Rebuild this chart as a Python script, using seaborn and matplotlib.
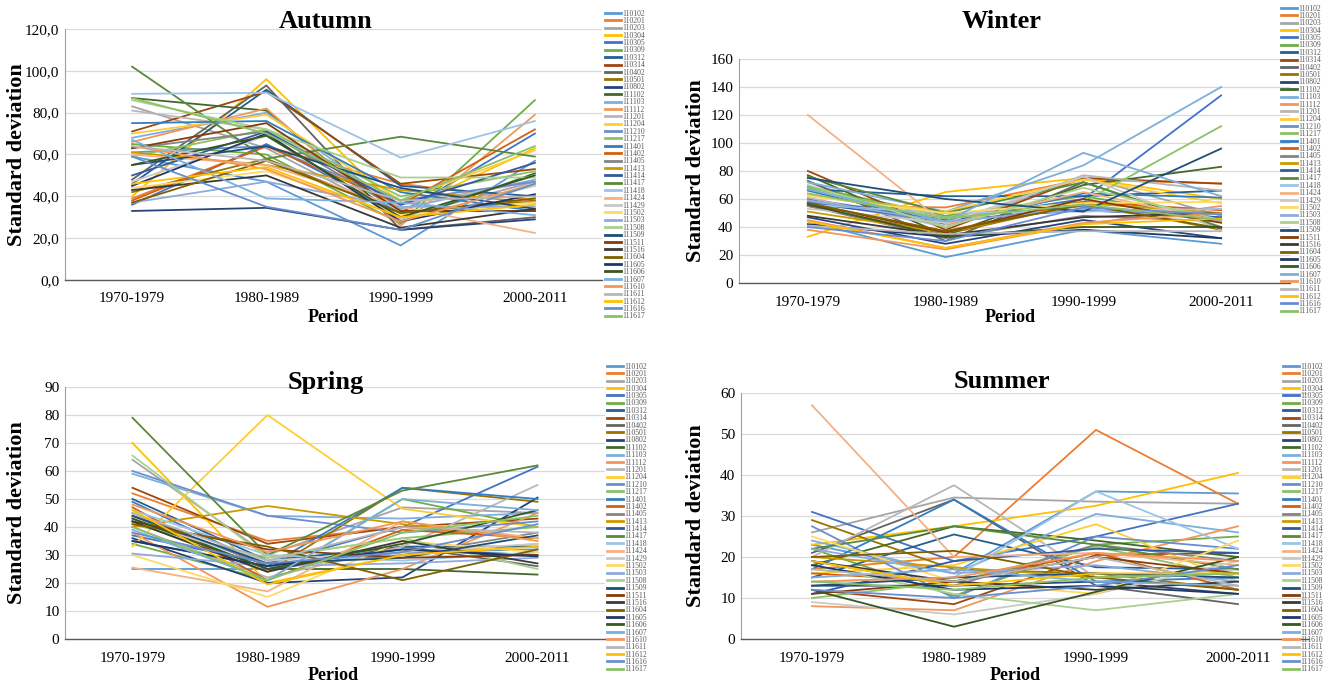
import numpy as np
import pandas as pd
import matplotlib
matplotlib.use("Agg")
import matplotlib.pyplot as plt
import seaborn as sns
from matplotlib.ticker import FuncFormatter

periods = ["1970-1979", "1980-1989", "1990-1999", "2000-2011"]

stations = ["110102", "110201", "110203", "110304", "110305", "110309", "110312",
            "110314", "110402", "110501", "110802", "111102", "111103", "111112",
            "111201", "111204", "111210", "111217", "111401", "111402", "111405",
            "111413", "111414", "111417", "111418", "111424", "111429", "111502",
            "111503", "111508", "111509", "111511", "111516", "111604", "111605",
            "111606", "111607", "111610", "111611", "111612", "111616", "111617"]

# Excel-like series colours
colors = ["#5B9BD5", "#ED7D31", "#A5A5A5", "#FFC000", "#4472C4", "#70AD47",
          "#255E91", "#9E480E", "#636363", "#997300", "#264478", "#43682B",
          "#7CAFDD", "#F1975A", "#B7B7B7", "#FFCD33", "#698ED0", "#8CC168",
          "#327DC2", "#D26012", "#848484", "#CC9A00", "#335AA1", "#5A8A39",
          "#9DC3E6", "#F4B183", "#C9C9C9", "#FFD966", "#8FAADC", "#A9D18E",
          "#1F4E79", "#843C0C", "#3A3A3A", "#7F6000", "#203864", "#385723",
          "#7CAFDD", "#F1975A", "#B7B7B7", "#FFC000", "#698ED0", "#8CC168"]

# standard deviation per station, values for the 4 periods
autumn = [
    [59, 47, 16.5, 57], [39, 64, 46, 38], [83, 63, 30, 47], [40, 96, 33, 63],
    [36, 65, 32, 70], [65, 60, 27, 86], [46, 91, 45, 40], [71, 90, 46, 53],
    [48, 93, 24, 30], [42, 58, 32, 38], [33, 34.5, 24, 29], [87, 81, 28, 51],
    [68, 80, 34, 48], [66, 82, 26, 79], [81, 72, 36, 47], [70, 79, 38, 62],
    [61, 64, 38, 47], [59, 72, 40, 52], [75, 76, 42, 33], [38, 64, 36, 72],
    [63, 71, 33, 33], [61, 55, 43, 37], [50, 71, 36, 56], [102, 58, 68.5, 59],
    [89, 89.5, 58.5, 76], [60, 55, 35, 22.5], [47, 69, 29, 45], [44, 52, 31, 37],
    [37, 47, 35, 35], [86, 72, 49, 49], [55, 64, 44, 34], [63, 75, 33, 33],
    [43, 50, 25, 34], [37, 57, 32, 39], [45, 70, 28, 41], [55, 69, 30, 50],
    [67, 39, 37, 31], [64, 53, 28, 46], [64, 57, 38, 40], [46, 54, 30, 36],
    [59, 35, 24, 46], [87, 70, 38, 64]]

winter = [
    [44, 18.5, 38, 28], [55, 54, 74, 71], [72, 40, 76, 48], [33, 65, 75, 60],
    [60, 45, 60, 134], [69, 48, 62, 46], [67, 62, 62, 66], [80, 38, 75, 71],
    [73, 30, 72, 39], [55, 35, 57, 38], [47, 28, 45, 32], [77, 34, 70, 83],
    [72, 51, 84, 140], [38, 24, 42, 55], [61, 40, 77, 66], [63, 51, 74, 57],
    [58, 43, 55, 45], [68, 47, 58, 112], [66, 42, 64, 61], [56, 37, 58, 52],
    [55, 32, 48, 44], [51, 36, 57, 50], [57, 45, 52, 47], [76, 50, 72, 40],
    [56, 50, 51, 53], [120, 42, 65, 44], [53, 43, 76, 38], [62, 50, 57, 58],
    [59, 44, 53, 45], [70, 40, 68, 45], [75, 60, 51, 96], [57, 36, 60, 43],
    [48, 34, 47, 50], [57, 37, 56, 39], [42, 33, 38, 32], [56, 33, 40, 40],
    [67, 44, 93, 62], [45, 25, 43, 50], [41, 35, 37, 37], [44, 25, 42, 46],
    [40, 30, 54, 49], [64, 46, 56, 45]]

spring = [
    [25, 25, 31, 32], [52, 35, 40, 36], [64, 30, 47, 45], [70, 20, 30, 34],
    [37, 27, 40, 61.5], [34, 21, 50, 40], [50, 28, 33, 33], [54, 34, 40, 43],
    [43, 25, 33, 26], [42, 24, 54, 49], [36, 20, 22, 50.5], [44, 25, 25, 23],
    [59, 44, 43, 45], [38, 11.5, 25, 45], [40, 22, 33, 55], [33, 80, 46.5, 40],
    [60, 44, 38, 42], [41, 29, 36, 40], [49, 26, 54, 50], [47, 21, 39, 36],
    [45, 26, 30, 38], [40, 47.5, 41, 36], [35, 26, 32, 30], [79, 30, 53, 62],
    [46, 30, 28, 31], [25.5, 17, 42, 36], [42, 28, 31, 34], [30, 15, 35, 31],
    [30.5, 26, 27, 29], [65.5, 29, 36, 25], [44, 27, 29, 37], [42, 32, 29, 30],
    [42, 24, 35, 27], [41, 33, 21, 32], [35, 26, 32, 29.5], [43, 25, 34, 46],
    [39, 21, 50, 46], [48, 31, 42, 35], [45, 28, 40, 38], [46, 19.5, 30, 33],
    [38, 27, 31, 41], [40, 21, 38, 44]]

summer = [
    [23, 16, 36, 35.5], [17, 20, 51, 33], [26, 34.5, 33.5, 33], [23, 27.5, 32.5, 40.5],
    [31, 19, 25, 33], [22, 10.5, 23, 25], [15, 25.5, 17.5, 17], [12, 8.5, 20.5, 21],
    [21, 34, 13, 8.5], [29, 17, 16, 12], [13, 13, 14, 11], [18, 27.5, 24, 20],
    [24, 16, 30.5, 26], [8, 7, 19, 27.5], [20, 37.5, 15, 17], [16, 18, 28, 14],
    [27.5, 10, 25, 22], [10, 14, 22.5, 15], [17, 34, 14, 15], [16, 14, 21, 12],
    [19, 13, 23, 19], [20, 17.5, 15, 16], [11, 19, 22, 21], [22, 27.5, 23, 17],
    [14, 15, 36, 22], [57, 20, 21, 18], [9, 6, 11, 19], [25, 14, 11, 24],
    [22, 16, 18, 14], [18, 11, 7, 11], [13, 15, 16, 15], [11, 14, 20, 16],
    [19, 14, 12, 14], [20, 21.5, 15, 12], [18, 12, 13, 11], [12, 3, 11.5, 20],
    [15, 17, 14, 13], [14, 15, 21, 19], [17, 14, 20, 13], [19, 13, 16, 16],
    [12, 10, 13, 18], [14, 12, 15, 16]]

plt.rcParams["font.family"] = ["Liberation Serif", "DejaVu Serif"]

W, H = 1337, 685
fig = plt.figure(figsize=(W / 100, H / 100), dpi=100)


def px(x0, y0, x1, y1):
    # pixel box (top-left origin) -> figure fraction rect
    return [x0 / W, 1 - y1 / H, (x1 - x0) / W, (y1 - y0) / H]


panels = [
    # name, data, box, ymax, step, comma fmt, title pos, ylabel x, xlabel pos, legend anchor
    ("Autumn", autumn, (65, 29, 602, 280), 120, 20, True, (326, 22), 17, (333, 318), (603, 8)),
    ("Winter", winter, (739, 59, 1290, 283), 160, 20, False, (1002, 22), 696, (1010, 318), (1279, 3)),
    ("Spring", spring, (65, 387, 605, 639), 90, 10, False, (326, 382), 17, (333, 676), (605, 361)),
    ("Summer", summer, (741, 393, 1309, 639), 60, 10, False, (1002, 382), 696, (1015, 676), (1281, 361)),
]

for name, vals, box, ymax, step, comma, tpos, ylx, xlpos, lpos in panels:
    df = pd.DataFrame(vals, columns=periods)
    df["station"] = stations
    long = df.melt(id_vars="station", var_name="period", value_name="sd")

    ax = fig.add_axes(px(*box))
    sns.lineplot(data=long, x="period", y="sd", hue="station", hue_order=stations,
                 palette=colors, sort=False, linewidth=1.3, ax=ax, legend=True)

    ax.set_xlim(-0.5, 3.5)
    ax.set_ylim(0, ymax)
    ax.set_yticks(np.arange(0, ymax + 1, step))
    if comma:
        ax.yaxis.set_major_formatter(FuncFormatter(lambda v, p: f"{v:.1f}".replace(".", ",")))
    ax.grid(axis="y", color="#D9D9D9", linewidth=0.9)
    ax.set_axisbelow(True)
    for s in ["top", "right"]:
        ax.spines[s].set_visible(False)
    ax.spines["left"].set_color("#A0A0A0")
    ax.spines["bottom"].set_color("#595959")
    ax.spines["bottom"].set_linewidth(1.0)
    ax.tick_params(axis="both", length=0, labelsize=11, pad=4)
    ax.tick_params(axis="x", pad=9)
    ax.set_xlabel("")
    ax.set_ylabel("")

    cy = (box[1] + box[3]) / 2
    fig.text(tpos[0] / W, 1 - tpos[1] / H, name, ha="center", va="center",
             fontsize=19, fontweight="bold")
    fig.text(ylx / W, 1 - cy / H, "Standard deviation", ha="center", va="center",
             rotation=90, fontsize=16, fontweight="bold")
    fig.text(xlpos[0] / W, 1 - xlpos[1] / H, "Period", ha="center", va="center",
             fontsize=13, fontweight="bold")

    handles, labels = ax.get_legend_handles_labels()
    ax.get_legend().remove()
    for h in handles:
        h.set_linewidth(2)
    fig.legend(handles, labels, loc="upper left",
               bbox_to_anchor=(lpos[0] / W, 1 - lpos[1] / H),
               frameon=False, fontsize=5.5, labelspacing=-0.08, handlelength=2.2,
               handletextpad=0.1, borderaxespad=0, borderpad=0.2,
               labelcolor="#595959")

fig.savefig("out.png", dpi=100)
